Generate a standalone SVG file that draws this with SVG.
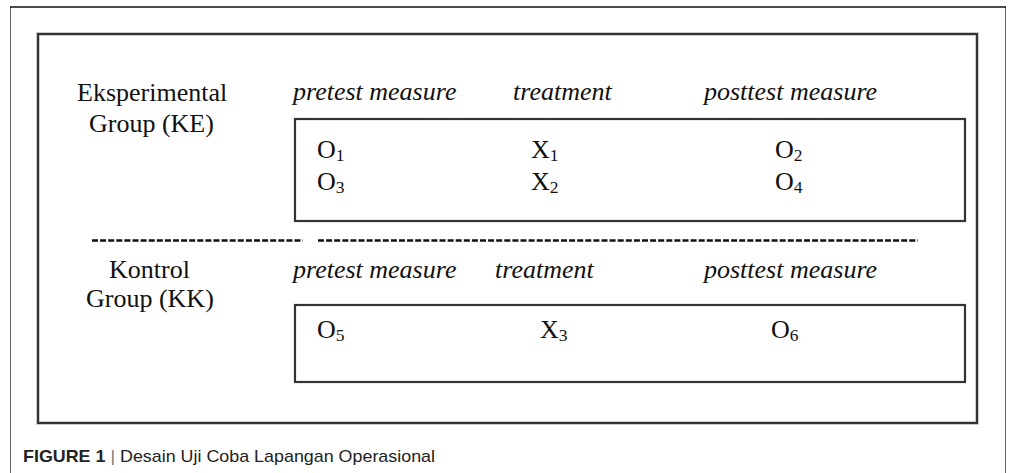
<svg xmlns="http://www.w3.org/2000/svg" width="1011" height="473" viewBox="0 0 1011 473">
  <style>
    .serif { font-family: "Liberation Serif", "Times New Roman", serif; font-size: 26px; fill: #111; }
    .ital { font-style: italic; }
    .sub { font-size: 17.5px; }
    .box { fill: none; stroke: #333; stroke-width: 2.2; }
    .cap { font-family: "Liberation Sans", Arial, sans-serif; font-size: 17px; fill: #222; }
  </style>
  <rect width="1011" height="473" fill="#fff"/>

  <g id="page-frame">
    <line x1="10.5" y1="7" x2="10.5" y2="473" stroke="#666" stroke-width="1"/>
    <line x1="1005.5" y1="7" x2="1005.5" y2="473" stroke="#666" stroke-width="1"/>
    <line x1="10" y1="7" x2="1006" y2="7" stroke="#111" stroke-width="1.5"/>
  </g>

  <g id="drawing-frame">
    <rect x="38" y="34" width="939" height="389" fill="none" stroke="#bbb" stroke-width="3.5"/>
    <rect x="38" y="34" width="939" height="389" fill="none" stroke="#333" stroke-width="2"/>
  </g>

  <g id="header-ke">
    <text class="serif ital" x="293" y="100">pretest measure</text>
    <text class="serif ital" x="513" y="100">treatment</text>
    <text class="serif ital" x="704" y="100">posttest measure</text>
  </g>

  <g id="group-ke">
    <text class="serif" x="77" y="101">Eksperimental</text>
    <text class="serif" x="89" y="132">Group (KE)</text>
  </g>

  <g id="box-ke">
    <rect class="box" x="295" y="119" width="670" height="102"/>
    <text class="serif" x="317" y="158">O<tspan class="sub" dy="3">1</tspan></text>
    <text class="serif" x="317" y="190">O<tspan class="sub" dy="3">3</tspan></text>
    <text class="serif" x="531" y="158">X<tspan class="sub" dy="3">1</tspan></text>
    <text class="serif" x="531" y="190">X<tspan class="sub" dy="3">2</tspan></text>
    <text class="serif" x="775" y="158">O<tspan class="sub" dy="3">2</tspan></text>
    <text class="serif" x="775" y="190">O<tspan class="sub" dy="3">4</tspan></text>
  </g>

  <g id="connectors">
    <line x1="92" y1="240.5" x2="303" y2="240.5" stroke="#111" stroke-width="2.4" stroke-dasharray="6 2.1"/>
    <line x1="318" y1="240.5" x2="918" y2="240.5" stroke="#111" stroke-width="2.4" stroke-dasharray="6 2.1"/>
  </g>

  <g id="group-kk">
    <text class="serif" x="109" y="278">Kontrol</text>
    <text class="serif" x="86" y="307">Group (KK)</text>
  </g>

  <g id="header-kk">
    <text class="serif ital" x="293" y="278">pretest measure</text>
    <text class="serif ital" x="495" y="278">treatment</text>
    <text class="serif ital" x="704" y="278">posttest measure</text>
  </g>

  <g id="box-kk">
    <rect class="box" x="295" y="305" width="670" height="77"/>
    <text class="serif" x="317" y="338">O<tspan class="sub" dy="3">5</tspan></text>
    <text class="serif" x="540" y="338">X<tspan class="sub" dy="3">3</tspan></text>
    <text class="serif" x="771" y="338">O<tspan class="sub" dy="3">6</tspan></text>
  </g>

  <g id="caption">
    <text class="cap" x="23" y="462" textLength="412" lengthAdjust="spacingAndGlyphs"><tspan font-weight="bold">FIGURE 1</tspan> <tspan fill="#777">|</tspan> Desain Uji Coba Lapangan Operasional</text>
  </g>
</svg>
